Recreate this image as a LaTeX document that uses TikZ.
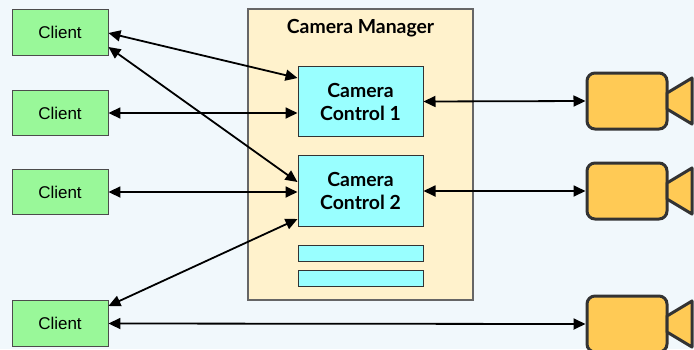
\documentclass[tikz,border=0pt]{standalone}
\usepackage{fontspec}
\setmainfont{Liberation Sans}
\newfontfamily\latofont{Lato}
\usetikzlibrary{arrows.meta}
\definecolor{bgc}{HTML}{F1F8FC}
\definecolor{clientfill}{HTML}{99F899}
\definecolor{mgrfill}{HTML}{FFF2CC}
\definecolor{ccfill}{HTML}{99FFFF}
\definecolor{camfill}{HTML}{FFCA55}
\definecolor{camline}{HTML}{333333}
\tikzset{
  client/.style={draw=black!70, fill=clientfill, line width=0.9pt, minimum width=96pt, minimum height=45.5pt, inner sep=0pt, font=\fontsize{17}{20}\selectfont},
  mgr/.style={draw=black!60, fill=mgrfill, line width=1.2pt, inner sep=0pt},
  ccbox/.style={draw=black!80, fill=ccfill, line width=1pt, minimum width=125pt, minimum height=70.5pt, inner sep=0pt, align=center, font=\latofont\bfseries\fontsize{19.4}{23}\selectfont},
  ccbar/.style={draw=black!80, fill=ccfill, line width=1pt, minimum width=125pt, minimum height=16pt, inner sep=0pt},
  cambody/.style={draw=camline, fill=camfill, line width=3pt, rounded corners=8pt, minimum width=80pt, minimum height=56pt, inner sep=0pt},
  camlens/.style={draw=camline, fill=camfill, line width=3pt, line join=round},
  biarrow/.style={line width=1.8pt, {Triangle[length=12pt,width=11pt]}-{Triangle[length=12pt,width=11pt]}},
}
\begin{document}
\begin{tikzpicture}[x=1pt,y=-1pt]
\fill[bgc] (0,0) rectangle (694,349);
\useasboundingbox (0,0) rectangle (694,349);
\clip (0,0) rectangle (694,349);

% clients
\node[client] (c1) at (60,32.5) {Client};
\node[client] (c2) at (60,113) {Client};
\node[client] (c3) at (60,192) {Client};
\node[client] (c4) at (60,323.5) {Client};

% camera manager
\node[mgr, minimum width=225pt, minimum height=291pt] (mgr) at (360.5,154.5) {};
\node[font=\latofont\bfseries\fontsize{19.4}{23}\selectfont, inner sep=0pt] (mgrtitle) at (360.5,28) {Camera Manager};

\node[ccbox] (cc1) at (360.5,101.5) {Camera\\Control 1};
\node[ccbox] (cc2) at (360.5,191) {Camera\\Control 2};
\node[ccbar] (bar1) at (360.5,253) {};
\node[ccbar] (bar2) at (360.5,278) {};

% cameras
\foreach \i/\y in {1/101,2/191,3/324}{
  \node[cambody] (cam\i) at (627,\y) {};
  \draw[camlens] (667,\y-8) -- (692,\y-23) -- (692,\y+23) -- (667,\y+8) -- cycle;
}

% connectors
\draw[biarrow] ([yshift=-0.5pt]c1.east) -- ([yshift=23.5pt]cc1.west);
\draw[biarrow] ([yshift=-14.5pt]c1.east) -- ([yshift=9pt]cc2.west);
\draw[biarrow] (c2.east) -- ([yshift=-11.5pt]cc1.west);
\draw[biarrow] (c3.east) -- ([yshift=-1pt]cc2.west);
\draw[biarrow] ([yshift=17.5pt]c4.east) -- ([yshift=-28pt]cc2.west);
\draw[biarrow] (c4.east) -- (cam3.west);
\draw[biarrow] (cc1.east) -- (cam1.west);
\draw[biarrow] (cc2.east) -- (cam2.west);
\end{tikzpicture}
\end{document}
